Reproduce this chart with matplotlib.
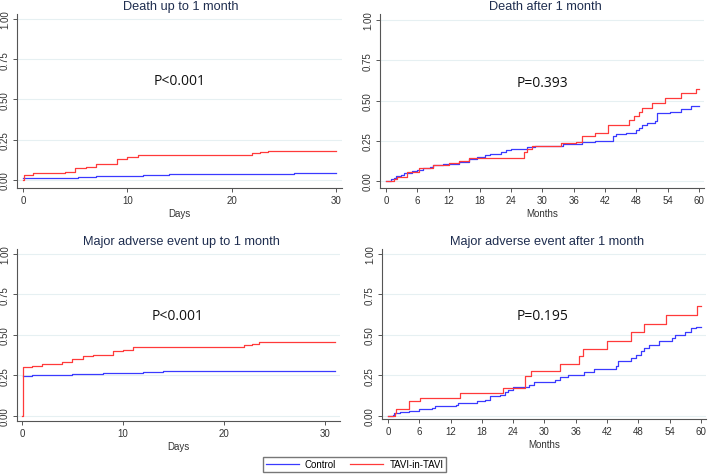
import numpy as np
import matplotlib.pyplot as plt
from matplotlib.lines import Line2D

# ---- data (cumulative incidence) ----
d1_ctrl_t = [0, 5.3, 7, 11.5, 14, 26, 30]
d1_ctrl_y = [0.010, 0.017, 0.023, 0.029, 0.037, 0.043, 0.043]
d1_tavi_t = [0, 0.1, 1, 4, 5, 6, 7, 9, 10, 11, 22, 22.7, 23.5, 30]
d1_tavi_y = [0, 0.031, 0.043, 0.052, 0.072, 0.081, 0.100, 0.130, 0.140, 0.153, 0.165, 0.174, 0.180, 0.180]

d2_ctrl_t = [0, 1, 1.5, 2, 2.8, 3.5, 5, 6, 7, 8.5, 9, 11, 14, 16, 17.5, 19, 20, 22, 23, 24,
             27, 28.5, 34, 37.5, 40, 43.5, 44, 46, 48, 48.5, 49, 50, 51.5, 52, 54.5, 56.5, 58.5, 60]
d2_ctrl_y = [0, 0.01, 0.02, 0.03, 0.04, 0.05, 0.06, 0.07, 0.08, 0.09, 0.10, 0.105, 0.12, 0.14,
             0.15, 0.16, 0.17, 0.18, 0.19, 0.20, 0.21, 0.22, 0.23, 0.24, 0.25, 0.28, 0.29, 0.30,
             0.32, 0.33, 0.35, 0.36, 0.37, 0.42, 0.43, 0.45, 0.465, 0.465]
d2_tavi_t = [0, 1.5, 2.2, 4, 6.3, 9, 12, 14, 16, 26.5, 27, 28, 33.5, 36.5, 37.5, 40, 42.5,
             46.5, 47.5, 48.5, 49, 51, 53.5, 56.5, 59.5, 60]
d2_tavi_y = [0, 0.012, 0.025, 0.056, 0.083, 0.098, 0.11, 0.125, 0.145, 0.18, 0.20, 0.218,
             0.235, 0.24, 0.28, 0.30, 0.35, 0.38, 0.405, 0.43, 0.456, 0.485, 0.517, 0.544,
             0.57, 0.57]

m1_ctrl_t = [0.1, 1, 4, 5, 7, 8, 10, 12, 14, 31]
m1_ctrl_y = [0.245, 0.25, 0.255, 0.26, 0.262, 0.265, 0.268, 0.272, 0.276, 0.276]
m1_tavi_t = [0, 0.1, 1, 2, 4, 5, 6, 7, 9, 10, 11, 22, 22.8, 23.5, 31]
m1_tavi_y = [0, 0.30, 0.31, 0.32, 0.33, 0.35, 0.367, 0.377, 0.40, 0.41, 0.423, 0.435, 0.445,
             0.458, 0.458]

m2_ctrl_t = [0, 1, 1.2, 2.3, 4, 6, 6.5, 8.5, 9, 13, 13.5, 17, 18.5, 19.5, 21.5, 22.5, 23, 24,
             27, 28, 32, 33, 34.5, 37.5, 39.5, 43.7, 44, 46.5, 47.5, 48.5, 49, 50, 52, 54.5,
             55, 57, 58, 59, 60]
m2_ctrl_y = [0, 0.005, 0.015, 0.025, 0.03, 0.04, 0.045, 0.05, 0.06, 0.065, 0.08, 0.09, 0.10,
             0.12, 0.13, 0.15, 0.16, 0.18, 0.19, 0.21, 0.22, 0.24, 0.25, 0.27, 0.29, 0.31,
             0.34, 0.36, 0.375, 0.40, 0.42, 0.44, 0.46, 0.48, 0.50, 0.52, 0.54, 0.55, 0.55]
m2_tavi_t = [0, 1.3, 1.6, 4, 6.2, 13.8, 22, 26.3, 27.5, 33, 36.6, 37.3, 42, 46.5, 49, 53.3,
             59.3, 60]
m2_tavi_y = [0, 0.02, 0.045, 0.09, 0.11, 0.14, 0.175, 0.245, 0.28, 0.32, 0.37, 0.415, 0.46,
             0.52, 0.57, 0.625, 0.68, 0.68]

panels = [
    ("Death up to 1 month", "Days", "P<0.001", d1_ctrl_t, d1_ctrl_y, d1_tavi_t, d1_tavi_y),
    ("Death after 1 month", "Months", "P=0.393", d2_ctrl_t, d2_ctrl_y, d2_tavi_t, d2_tavi_y),
    ("Major adverse event up to 1 month", "Days", "P<0.001", m1_ctrl_t, m1_ctrl_y, m1_tavi_t, m1_tavi_y),
    ("Major adverse event after 1 month", "Months", "P=0.195", m2_ctrl_t, m2_ctrl_y, m2_tavi_t, m2_tavi_y),
]

BLUE = '#3a3aff'
RED = '#ff3a3a'
W, H = 708, 477

plt.rcParams['font.family'] = ['Liberation Sans', 'DejaVu Sans']
fig = plt.figure(figsize=(W / 100, H / 100), dpi=100)

# pixel boxes: left, right, top, bottom ; xlim ; ylim ; ticks ; P pos ; title centre (px)
boxes = [
    ((17, 342, 15, 189), (-0.575, 30.58), (-0.05, 1.031), [0, 10, 20, 30], (15, 0.615), (181, 7)),
    ((380, 704, 15, 189), (-1.15, 60.96), (-0.043, 1.037), list(range(0, 61, 6)), (29.9, 0.61), (545, 7)),
    ((17, 340, 250, 422), (-0.495, 31.49), (-0.031, 1.03), [0, 10, 20, 30], (15.4, 0.617), (181, 242)),
    ((382, 706, 250, 420), (-1.15, 60.96), (-0.019, 1.03), list(range(0, 61, 6)), (29.7, 0.617), (547, 242)),
]

for (title, xlab, ptxt, ct, cy, tt, ty), (px, xl, yl, xt, ppos, tpos) in zip(panels, boxes):
    l, r, t, b = px
    ax = fig.add_axes([l / W, 1 - b / H, (r - l) / W, (b - t) / H])
    ax.set_xlim(*xl)
    ax.set_ylim(*yl)
    for s in ['top', 'right']:
        ax.spines[s].set_visible(False)
    for s in ['left', 'bottom']:
        ax.spines[s].set_color('#555555')
        ax.spines[s].set_linewidth(0.8)
    ax.set_yticks([0, 0.25, 0.5, 0.75, 1.0])
    ax.set_yticklabels(['0.00', '0.25', '0.50', '0.75', '1.00'], rotation=90, va='center')
    ax.set_xticks(xt)
    ax.tick_params(labelsize=7, colors='#555555', labelcolor='#333333', length=3, width=0.7, pad=2)
    ax.grid(axis='y', color='#e6f0f2', linewidth=0.8)
    ax.set_axisbelow(True)
    ax.step(ct, cy, where='post', color=BLUE, lw=0.9)
    ax.step(tt, ty, where='post', color=RED, lw=0.9)
    ax.text(ppos[0], ppos[1], ptxt, ha='center', va='center', fontsize=10,
            family=['Open Sans', 'DejaVu Sans'], color='#111111')
    fig.text(tpos[0] / W, 1 - tpos[1] / H, title, ha='center', va='center',
             fontsize=9.2, color='#1e2d4f')
    ax.set_xlabel(xlab, fontsize=7, color='#333333', labelpad=2)

# legend at bottom centre
handles = [Line2D([], [], color=BLUE, lw=0.9), Line2D([], [], color=RED, lw=0.9)]
fig.legend(handles, ['Control', 'TAVI-in-TAVI'], loc='center', ncol=2,
           bbox_to_anchor=(354.5 / W, 1 - 465.5 / H), fontsize=7, frameon=True,
           fancybox=False, edgecolor='#555555', handlelength=3.4, columnspacing=1.5,
           borderpad=0.3, handletextpad=0.6, borderaxespad=0)

fig.savefig('out.png', dpi=100)
